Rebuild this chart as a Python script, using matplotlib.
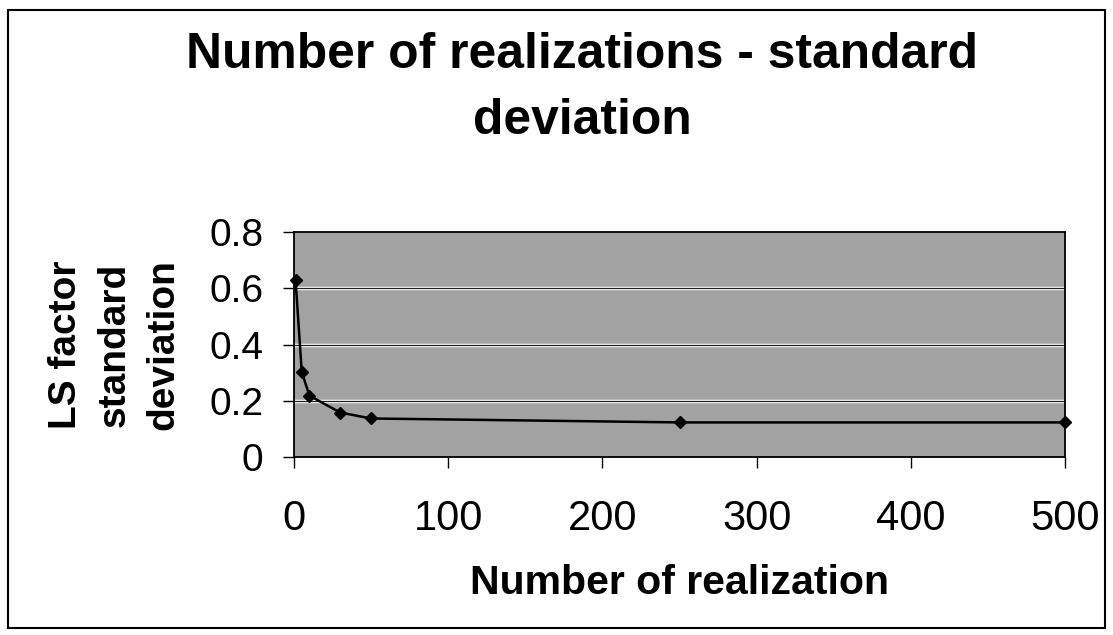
import matplotlib.pyplot as plt
from matplotlib.patches import Rectangle

# Data
realizations = [1, 5, 10, 30, 50, 250, 500]
ls_std = [0.628, 0.302, 0.218, 0.158, 0.137, 0.123, 0.123]

x_ticks = [0, 100, 200, 300, 400, 500]
y_ticks = [0, 0.2, 0.4, 0.6, 0.8]
y_tick_labels = ['0', '0.2', '0.4', '0.6', '0.8']

plt.rcParams['font.family'] = ['Liberation Sans', 'DejaVu Sans']

fig = plt.figure(figsize=(11.13, 6.35), dpi=100)
ax = fig.add_axes([0.2642, 0.2803, 0.6927, 0.3543])

# outer chart border
fig.patches.append(Rectangle((0.007, 0.011), 0.986, 0.974, transform=fig.transFigure,
                             fill=False, edgecolor='black', linewidth=1.5))

ax.set_facecolor('#a2a2a2')
# gridlines: white band with a thin dark line, as in the scan
ax.hlines(y_ticks[1:-1], 0, 500, color='white', linewidth=2.5, zorder=1)
ax.hlines(y_ticks[1:-1], 0, 500, color='#202020', linewidth=0.9, zorder=1.5)
ax.plot(realizations, ls_std, color='black', linewidth=1.8, marker='D',
        markersize=6.5, markerfacecolor='black', zorder=3, clip_on=False)

ax.set_xlim(0, 500)
ax.set_ylim(0, 0.8)
ax.set_xticks(x_ticks)
ax.set_yticks(y_ticks)
ax.set_yticklabels(y_tick_labels)
ax.tick_params(axis='both', direction='out', length=8, width=1)
ax.tick_params(axis='x', labelsize=30, pad=22)
ax.tick_params(axis='y', labelsize=28, pad=14)
for s in ax.spines.values():
    s.set_linewidth(1.3)

fig.text(0.523, 0.862, 'Number of realizations - standard\ndeviation', ha='center', va='center',
         fontsize=35.8, fontweight='bold', linespacing=1.55)
ax.set_xlabel('Number of realization', fontsize=29.5, fontweight='bold', labelpad=18)
ax.set_ylabel('LS factor\nstandard\ndeviation', fontsize=28, fontweight='bold', labelpad=20,
              linespacing=1.45)

fig.savefig('out.png', dpi=100)
